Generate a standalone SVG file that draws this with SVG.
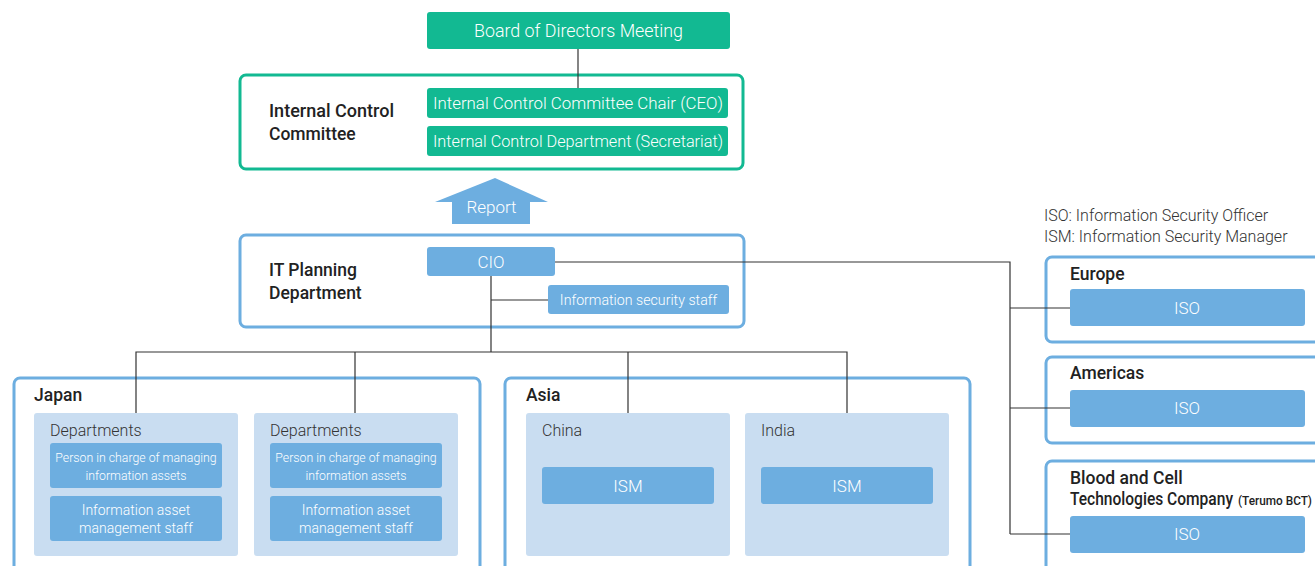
<svg xmlns="http://www.w3.org/2000/svg" width="1315" height="566" viewBox="0 0 1315 566">
<style>
.teal{fill:#12b992}
.tealframe{fill:none;stroke:#12b992;stroke-width:3}
.frame{fill:none;stroke:#6daee0;stroke-width:3}
.box{fill:#6daee0}
.light{fill:#c9ddf1}
.w{font-family:Roboto,"Noto Sans",sans-serif;font-weight:300;fill:#fff;text-anchor:middle}
.h{font-family:Roboto,"Noto Sans",sans-serif;font-weight:500;fill:#222;font-size:17.5px}
.d{font-family:Roboto,"Noto Sans",sans-serif;font-weight:300;fill:#333;font-size:16px}
.ln{fill:none;stroke:#333;stroke-width:1.2}
</style>
<rect width="1315" height="566" fill="#fff"/>
<g id="board">
<rect class="teal" x="427" y="12" width="303" height="37" rx="3"/>
<text class="w" x="578.5" y="37" font-size="17.8" textLength="209" lengthAdjust="spacingAndGlyphs">Board of Directors Meeting</text>
</g>
<g id="internal-control-committee">
<rect class="tealframe" x="240" y="75" width="503" height="94" rx="6"/>
<text class="h" x="269" y="117" textLength="125" lengthAdjust="spacingAndGlyphs">Internal Control</text>
<text class="h" x="269" y="140">Committee</text>
<rect class="teal" x="427" y="88" width="301" height="30" rx="3"/>
<text class="w" x="578" y="109" font-size="16.8" textLength="290" lengthAdjust="spacingAndGlyphs">Internal Control Committee Chair (CEO)</text>
<rect class="teal" x="427" y="126" width="301" height="30" rx="3"/>
<text class="w" x="578" y="147" font-size="16.5" textLength="290" lengthAdjust="spacingAndGlyphs">Internal Control Department (Secretariat)</text>
</g>
<g id="report">
<polygon class="box" points="495,178 548,202 530,202 530,224 452,224 452,202 435,202"/>
<text class="w" x="491.5" y="213" font-size="17">Report</text>
</g>
<g id="it-planning">
<rect class="frame" x="240" y="235" width="504" height="92" rx="6"/>
<text class="h" x="269" y="276">IT Planning</text>
<text class="h" x="269" y="299">Department</text>
<rect class="box" x="427" y="247" width="128" height="29" rx="3"/>
<text class="w" x="491" y="268" font-size="17">CIO</text>
<rect class="box" x="548" y="285" width="181" height="29" rx="3"/>
<text class="w" x="638.5" y="305" font-size="14.2">Information security staff</text>
</g>
<g id="legend">
<text class="d" x="1044" y="221" font-size="15">ISO: Information Security Officer</text>
<text class="d" x="1044" y="242" font-size="15">ISM: Information Security Manager</text>
</g>
<g id="japan">
<rect class="frame" x="14" y="378" width="466" height="200" rx="6"/>
<text class="h" x="34" y="401">Japan</text>
<rect class="light" x="34" y="413" width="204" height="143" rx="3"/>
<text class="d" x="50" y="436">Departments</text>
<rect class="box" x="50" y="443" width="172" height="45" rx="3"/>
<text class="w" x="136" y="462" font-size="12.3">Person in charge of managing</text>
<text class="w" x="136" y="480" font-size="12.3">information assets</text>
<rect class="box" x="50" y="496" width="172" height="45" rx="3"/>
<text class="w" x="136" y="515" font-size="14">Information asset</text>
<text class="w" x="136" y="533" font-size="14">management staff</text>
<rect class="light" x="254" y="413" width="204" height="143" rx="3"/>
<text class="d" x="270" y="436">Departments</text>
<rect class="box" x="270" y="443" width="172" height="45" rx="3"/>
<text class="w" x="356" y="462" font-size="12.3">Person in charge of managing</text>
<text class="w" x="356" y="480" font-size="12.3">information assets</text>
<rect class="box" x="270" y="496" width="172" height="45" rx="3"/>
<text class="w" x="356" y="515" font-size="14">Information asset</text>
<text class="w" x="356" y="533" font-size="14">management staff</text>
</g>
<g id="asia">
<rect class="frame" x="505" y="378" width="465" height="200" rx="6"/>
<text class="h" x="526" y="401">Asia</text>
<rect class="light" x="526" y="413" width="204" height="143" rx="3"/>
<text class="d" x="542" y="436">China</text>
<rect class="box" x="542" y="467" width="172" height="37" rx="3"/>
<text class="w" x="628" y="492" font-size="17">ISM</text>
<rect class="light" x="745" y="413" width="204" height="143" rx="3"/>
<text class="d" x="761" y="436">India</text>
<rect class="box" x="761" y="467" width="172" height="37" rx="3"/>
<text class="w" x="847" y="492" font-size="17">ISM</text>
</g>
<g id="europe">
<rect class="frame" x="1046" y="257" width="290" height="85" rx="6"/>
<text class="h" x="1070" y="280">Europe</text>
<rect class="box" x="1070" y="289" width="235" height="37" rx="3"/>
<text class="w" x="1187" y="314" font-size="17">ISO</text>
</g>
<g id="americas">
<rect class="frame" x="1046" y="357" width="290" height="86" rx="6"/>
<text class="h" x="1070" y="379">Americas</text>
<rect class="box" x="1070" y="390" width="235" height="37" rx="3"/>
<text class="w" x="1187" y="414" font-size="17">ISO</text>
</g>
<g id="terumo-bct">
<rect class="frame" x="1046" y="461" width="290" height="130" rx="6"/>
<text class="h" x="1070" y="484">Blood and Cell</text>
<text class="h" x="1070" y="505"><tspan textLength="163" lengthAdjust="spacingAndGlyphs">Technologies Company</tspan><tspan x="1238" font-size="12.5" textLength="74" lengthAdjust="spacingAndGlyphs">(Terumo BCT)</tspan></text>
<rect class="box" x="1070" y="516" width="235" height="37" rx="3"/>
<text class="w" x="1187" y="540" font-size="17">ISO</text>
</g>
<g id="connectors">
<path class="ln" d="M578 49V88"/>
<path class="ln" d="M491 276V352M491 300H548"/>
<path class="ln" d="M555 262H1010V534M1010 308H1070M1010 408H1070M1010 534H1070"/>
<path class="ln" d="M136 413V352H847V413M355 352V413M628 352V413"/>
</g>
</svg>
